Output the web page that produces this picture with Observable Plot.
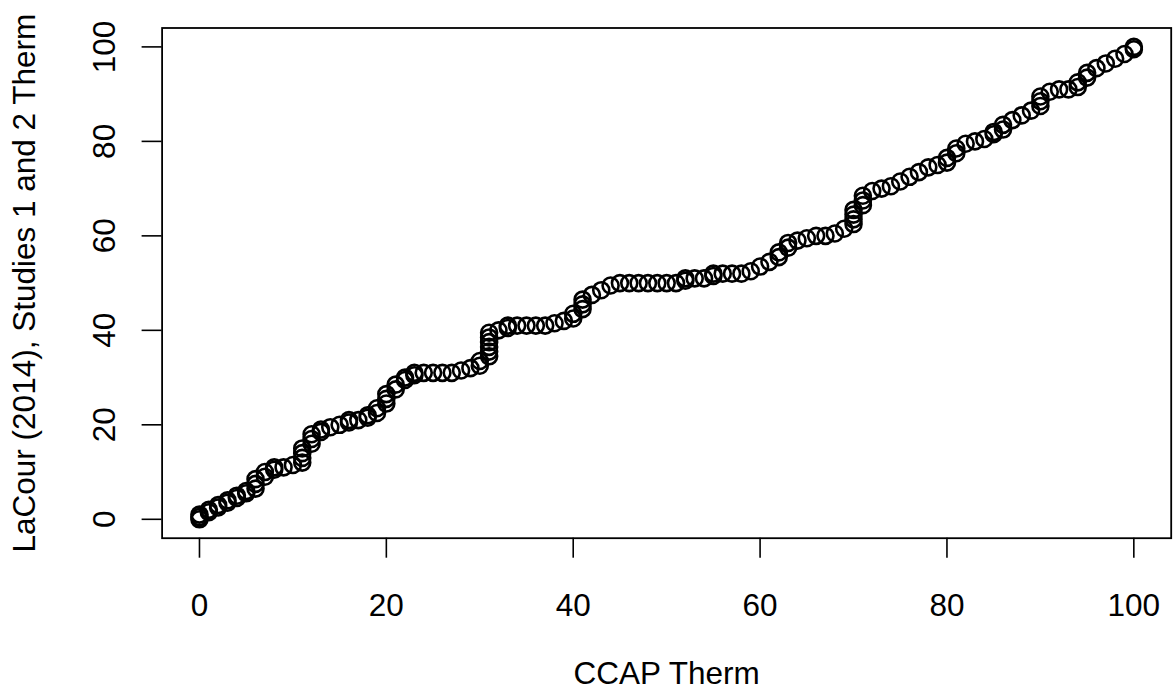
<!DOCTYPE html>
<html>
<head>
<meta charset="utf-8">
<script src="https://cdn.jsdelivr.net/npm/d3@7"></script>
<script src="https://cdn.jsdelivr.net/npm/@observablehq/plot@0.6"></script>
<style>
  html, body { margin: 0; padding: 0; background: #fff; }
  #chart svg { display: block; }
</style>
</head>
<body>
<div id="chart"></div>
<script>
// Quantile points (CCAP therm vs LaCour 2014 therm)
const ccap = [0,0,0, 1,1, 2,2, 3,3, 4,4, 5,5, 6,6,6, 7,7, 8,8, 9, 10, 11,11,11,11, 12,12,12, 13,13, 14, 15, 16,16, 17, 18,18, 19,19, 20,20,20, 21,21, 22,22, 23,23, 24,25,26,27, 28, 29, 30,30, 31,31,31,31,31,31, 32, 33,33, 34,35,36,37, 38, 39, 40,40, 41,41,41, 42, 43, 44, 45,46,47,48,49,50,51, 52,52, 53,54, 55,55, 56,57,58, 59, 60, 61, 62,62, 63,63, 64, 65, 66, 67, 68, 69, 70,70,70,70, 71,71,71, 72, 73, 74, 75, 76, 77, 78, 79, 80,80, 81,81, 82, 83, 84, 85,85, 86,86, 87, 88, 89, 90,90,90, 91, 92, 93, 94,94, 95,95, 96, 97, 98, 99, 100,100];
const lacour = [0,0.5,1, 1.5,2, 2.5,3, 3.5,4, 4.5,5, 5.5,6, 6.5,7.5,8.5, 9,10, 10.5,11, 11, 11.5, 12,13,14,15, 16,17,18, 18.5,19, 19.5, 20, 20.5,21, 21, 21.5,22, 22.5,23.5, 24.5,25.5,26.5, 27.5,28.5, 29.5,30, 30.5,31, 31,31,31,31, 31.5, 32, 32.5,33.5, 34.5,35.5,36.5,37.5,38.5,39.5, 40, 40.5,41, 41,41,41,41, 41.5, 42, 42.5,43.5, 44.5,45.5,46.5, 47.5, 48.5, 49.5, 50,50,50,50,50,50,50, 50.5,51, 51,51, 51.5,52, 52,52,52, 52.5, 53.5, 54.5, 55.5,56.5, 57.5,58.5, 59, 59.5, 60, 60, 60.5, 61.5, 62.5,63.5,64.5,65.5, 66.5,67.5,68.5, 69.5, 70, 70.5, 71.5, 72.5, 73.5, 74.5, 75, 75.5,76.5, 77.5,78.5, 79.5, 80, 80.5, 81.5,82, 82.5,83.5, 84.5, 85.5, 86.5, 87.5,88.5,89.5, 90.5, 91, 91, 91.5,92.5, 93.5,94.5, 95.5, 96.5, 97.5, 98.5, 99.5,100];

const xTicks = [0, 20, 40, 60, 80, 100];
const yTicks = [0, 20, 40, 60, 80, 100];
const xTitle = "CCAP Therm";
const yTitle = "LaCour (2014), Studies 1 and 2 Therm";

const n = Math.min(ccap.length, lacour.length);
const points = d3.range(n).map(i => ({x: ccap[i], y: lacour[i]}));

const font = "'Liberation Sans', Arial, Helvetica, sans-serif";
const fs = 31.5;

const chart = Plot.plot({
  width: 1173,
  height: 691,
  marginLeft: 161.6,
  marginRight: 2.3,
  marginTop: 27.5,
  marginBottom: 153.3,
  x: {domain: [-4, 104]},
  y: {domain: [-4, 104]},
  style: {fontFamily: font, fontSize: fs + "px", background: "#fff", color: "#000", overflow: "visible"},
  marks: [
    Plot.frame({stroke: "#000", strokeWidth: 1.8}),
    Plot.axisX(xTicks, {tickSize: 20, tickPadding: 35, fontSize: fs, label: null, strokeWidth: 1.6}),
    Plot.axisY(yTicks, {tickSize: 20, tickRotate: -90, tickPadding: 27, fontSize: fs, label: null, strokeWidth: 1.6}),
    Plot.dot(points, {x: "x", y: "y", r: 8, stroke: "#000", strokeWidth: 2.6, fill: "none"}),
    Plot.text([xTitle], {text: d => d, frameAnchor: "bottom", dy: 136, lineAnchor: "middle", textAnchor: "middle", fontSize: fs}),
    Plot.text([yTitle], {text: d => d, frameAnchor: "left", dx: -137, rotate: -90, lineAnchor: "middle", textAnchor: "middle", fontSize: fs})
  ]
});
document.getElementById("chart").appendChild(chart);
</script>
</body>
</html>
